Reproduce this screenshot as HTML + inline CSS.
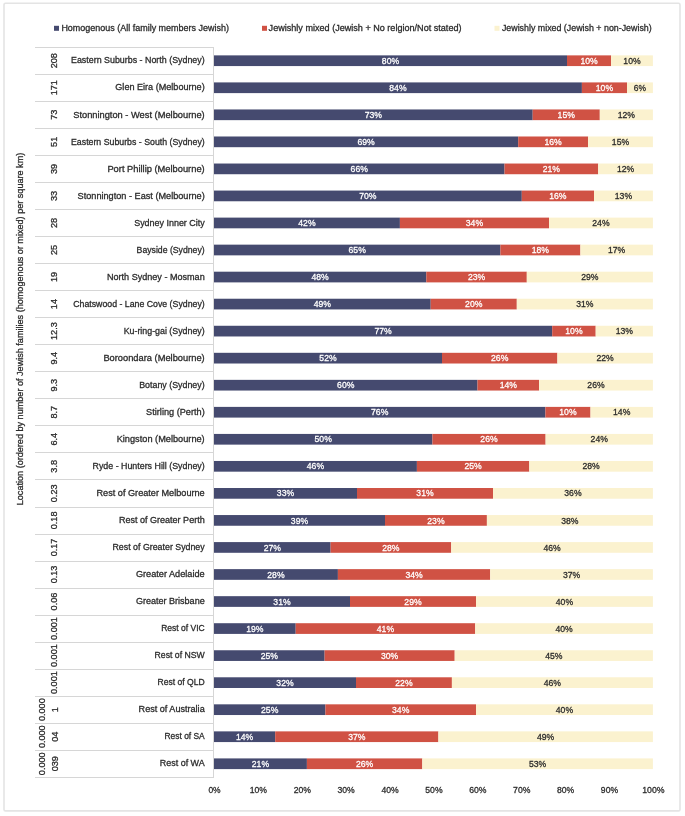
<!DOCTYPE html><html><head><meta charset="utf-8"><style>html,body{margin:0;padding:0;background:#fff;}svg{display:block;will-change:transform;}text{font-family:"Liberation Sans",sans-serif;font-size:9.4px;stroke-width:0.3px;}</style></head><body>
<svg width="685" height="816" viewBox="0 0 685 816">
<rect x="0" y="0" width="685" height="816" fill="#fff"/>
<rect x="4.0" y="3.3" width="676.0" height="807.6" rx="1.5" fill="none" stroke="#e4e4e4" stroke-width="1.6"/>
<rect x="54" y="25.8" width="5" height="5" fill="#454a6f"/>
<text x="61.40" y="30.90" text-anchor="start" fill="#2b2b2b" stroke="#2b2b2b" textLength="167.50" lengthAdjust="spacingAndGlyphs">Homogenous (All family members Jewish)</text>
<rect x="262" y="25.8" width="5" height="5" fill="#d05244"/>
<text x="268.60" y="30.90" text-anchor="start" fill="#2b2b2b" stroke="#2b2b2b" textLength="192.90" lengthAdjust="spacingAndGlyphs">Jewishly mixed (Jewish + No relgion/Not stated)</text>
<rect x="494.5" y="25.8" width="5" height="5" fill="#fbf2cf"/>
<text x="501.90" y="30.90" text-anchor="start" fill="#2b2b2b" stroke="#2b2b2b" textLength="149.80" lengthAdjust="spacingAndGlyphs">Jewishly mixed (Jewish + non-Jewish)</text>
<line x1="35" y1="47.50" x2="213" y2="47.50" stroke="#d6d6d6" stroke-width="1"/>
<line x1="35" y1="74.50" x2="213" y2="74.50" stroke="#d6d6d6" stroke-width="1"/>
<line x1="35" y1="101.50" x2="213" y2="101.50" stroke="#d6d6d6" stroke-width="1"/>
<line x1="35" y1="128.50" x2="213" y2="128.50" stroke="#d6d6d6" stroke-width="1"/>
<line x1="35" y1="155.50" x2="213" y2="155.50" stroke="#d6d6d6" stroke-width="1"/>
<line x1="35" y1="182.50" x2="213" y2="182.50" stroke="#d6d6d6" stroke-width="1"/>
<line x1="35" y1="209.50" x2="213" y2="209.50" stroke="#d6d6d6" stroke-width="1"/>
<line x1="35" y1="236.50" x2="213" y2="236.50" stroke="#d6d6d6" stroke-width="1"/>
<line x1="35" y1="263.50" x2="213" y2="263.50" stroke="#d6d6d6" stroke-width="1"/>
<line x1="35" y1="290.50" x2="213" y2="290.50" stroke="#d6d6d6" stroke-width="1"/>
<line x1="35" y1="317.50" x2="213" y2="317.50" stroke="#d6d6d6" stroke-width="1"/>
<line x1="35" y1="344.50" x2="213" y2="344.50" stroke="#d6d6d6" stroke-width="1"/>
<line x1="35" y1="371.50" x2="213" y2="371.50" stroke="#d6d6d6" stroke-width="1"/>
<line x1="35" y1="398.50" x2="213" y2="398.50" stroke="#d6d6d6" stroke-width="1"/>
<line x1="35" y1="425.50" x2="213" y2="425.50" stroke="#d6d6d6" stroke-width="1"/>
<line x1="35" y1="452.50" x2="213" y2="452.50" stroke="#d6d6d6" stroke-width="1"/>
<line x1="35" y1="479.50" x2="213" y2="479.50" stroke="#d6d6d6" stroke-width="1"/>
<line x1="35" y1="507.50" x2="213" y2="507.50" stroke="#d6d6d6" stroke-width="1"/>
<line x1="35" y1="534.50" x2="213" y2="534.50" stroke="#d6d6d6" stroke-width="1"/>
<line x1="35" y1="561.50" x2="213" y2="561.50" stroke="#d6d6d6" stroke-width="1"/>
<line x1="35" y1="588.50" x2="213" y2="588.50" stroke="#d6d6d6" stroke-width="1"/>
<line x1="35" y1="615.50" x2="213" y2="615.50" stroke="#d6d6d6" stroke-width="1"/>
<line x1="35" y1="642.50" x2="213" y2="642.50" stroke="#d6d6d6" stroke-width="1"/>
<line x1="35" y1="669.50" x2="213" y2="669.50" stroke="#d6d6d6" stroke-width="1"/>
<line x1="35" y1="696.50" x2="213" y2="696.50" stroke="#d6d6d6" stroke-width="1"/>
<line x1="35" y1="723.50" x2="213" y2="723.50" stroke="#d6d6d6" stroke-width="1"/>
<line x1="35" y1="750.50" x2="213" y2="750.50" stroke="#d6d6d6" stroke-width="1"/>
<line x1="35" y1="777.50" x2="213" y2="777.50" stroke="#d6d6d6" stroke-width="1"/>
<line x1="213.5" y1="47.00" x2="213.5" y2="778.00" stroke="#d6d6d6" stroke-width="1"/>
<g transform="translate(22.7,329) rotate(-90)"><text x="0.00" y="0.00" text-anchor="middle" fill="#2b2b2b" stroke="#2b2b2b" textLength="352.50" lengthAdjust="spacingAndGlyphs">Location (ordered by number of Jewish families (homogenous or mixed) per square km)</text></g>
<text x="71.00" y="63.42" text-anchor="start" fill="#2b2b2b" stroke="#2b2b2b" textLength="133.70" lengthAdjust="spacingAndGlyphs">Eastern Suburbs - North (Sydney)</text>
<g transform="translate(57.4,60.72) rotate(-90)"><text x="0.00" y="0.00" text-anchor="middle" fill="#2b2b2b" stroke="#2b2b2b" textLength="15.21" lengthAdjust="spacingAndGlyphs">208</text></g>
<rect x="214.00" y="55.37" width="353.00" height="10.7" fill="#454a6f"/>
<rect x="567.00" y="55.37" width="44.10" height="10.7" fill="#d05244"/>
<rect x="611.10" y="55.37" width="41.80" height="10.7" fill="#fbf2cf"/>
<text x="390.50" y="63.82" text-anchor="middle" fill="#fff" stroke="#fff" textLength="17.29" lengthAdjust="spacingAndGlyphs">80%</text>
<text x="589.05" y="63.82" text-anchor="middle" fill="#fff" stroke="#fff" textLength="17.29" lengthAdjust="spacingAndGlyphs">10%</text>
<text x="632.00" y="63.82" text-anchor="middle" fill="#2b2b2b" stroke="#2b2b2b" textLength="17.29" lengthAdjust="spacingAndGlyphs">10%</text>
<text x="115.30" y="90.46" text-anchor="start" fill="#2b2b2b" stroke="#2b2b2b" textLength="89.40" lengthAdjust="spacingAndGlyphs">Glen Eira (Melbourne)</text>
<g transform="translate(57.4,87.76) rotate(-90)"><text x="0.00" y="0.00" text-anchor="middle" fill="#2b2b2b" stroke="#2b2b2b" textLength="15.21" lengthAdjust="spacingAndGlyphs">171</text></g>
<rect x="214.00" y="82.41" width="367.90" height="10.7" fill="#454a6f"/>
<rect x="581.90" y="82.41" width="45.10" height="10.7" fill="#d05244"/>
<rect x="627.00" y="82.41" width="25.90" height="10.7" fill="#fbf2cf"/>
<text x="397.95" y="90.86" text-anchor="middle" fill="#fff" stroke="#fff" textLength="17.29" lengthAdjust="spacingAndGlyphs">84%</text>
<text x="604.45" y="90.86" text-anchor="middle" fill="#fff" stroke="#fff" textLength="17.29" lengthAdjust="spacingAndGlyphs">10%</text>
<text x="639.95" y="90.86" text-anchor="middle" fill="#2b2b2b" stroke="#2b2b2b" textLength="12.22" lengthAdjust="spacingAndGlyphs">6%</text>
<text x="73.20" y="117.50" text-anchor="start" fill="#2b2b2b" stroke="#2b2b2b" textLength="131.50" lengthAdjust="spacingAndGlyphs">Stonnington - West (Melbourne)</text>
<g transform="translate(57.4,114.80) rotate(-90)"><text x="0.00" y="0.00" text-anchor="middle" fill="#2b2b2b" stroke="#2b2b2b" textLength="10.14" lengthAdjust="spacingAndGlyphs">73</text></g>
<rect x="214.00" y="109.45" width="318.70" height="10.7" fill="#454a6f"/>
<rect x="532.70" y="109.45" width="67.10" height="10.7" fill="#d05244"/>
<rect x="599.80" y="109.45" width="53.10" height="10.7" fill="#fbf2cf"/>
<text x="373.35" y="117.90" text-anchor="middle" fill="#fff" stroke="#fff" textLength="17.29" lengthAdjust="spacingAndGlyphs">73%</text>
<text x="566.25" y="117.90" text-anchor="middle" fill="#fff" stroke="#fff" textLength="17.29" lengthAdjust="spacingAndGlyphs">15%</text>
<text x="626.35" y="117.90" text-anchor="middle" fill="#2b2b2b" stroke="#2b2b2b" textLength="17.29" lengthAdjust="spacingAndGlyphs">12%</text>
<text x="71.00" y="144.54" text-anchor="start" fill="#2b2b2b" stroke="#2b2b2b" textLength="133.70" lengthAdjust="spacingAndGlyphs">Eastern Suburbs - South (Sydney)</text>
<g transform="translate(57.4,141.84) rotate(-90)"><text x="0.00" y="0.00" text-anchor="middle" fill="#2b2b2b" stroke="#2b2b2b" textLength="10.14" lengthAdjust="spacingAndGlyphs">51</text></g>
<rect x="214.00" y="136.49" width="304.20" height="10.7" fill="#454a6f"/>
<rect x="518.20" y="136.49" width="69.90" height="10.7" fill="#d05244"/>
<rect x="588.10" y="136.49" width="64.80" height="10.7" fill="#fbf2cf"/>
<text x="366.10" y="144.94" text-anchor="middle" fill="#fff" stroke="#fff" textLength="17.29" lengthAdjust="spacingAndGlyphs">69%</text>
<text x="553.15" y="144.94" text-anchor="middle" fill="#fff" stroke="#fff" textLength="17.29" lengthAdjust="spacingAndGlyphs">16%</text>
<text x="620.50" y="144.94" text-anchor="middle" fill="#2b2b2b" stroke="#2b2b2b" textLength="17.29" lengthAdjust="spacingAndGlyphs">15%</text>
<text x="107.40" y="171.58" text-anchor="start" fill="#2b2b2b" stroke="#2b2b2b" textLength="97.30" lengthAdjust="spacingAndGlyphs">Port Phillip (Melbourne)</text>
<g transform="translate(57.4,168.88) rotate(-90)"><text x="0.00" y="0.00" text-anchor="middle" fill="#2b2b2b" stroke="#2b2b2b" textLength="10.14" lengthAdjust="spacingAndGlyphs">39</text></g>
<rect x="214.00" y="163.53" width="290.50" height="10.7" fill="#454a6f"/>
<rect x="504.50" y="163.53" width="93.70" height="10.7" fill="#d05244"/>
<rect x="598.20" y="163.53" width="54.70" height="10.7" fill="#fbf2cf"/>
<text x="359.25" y="171.98" text-anchor="middle" fill="#fff" stroke="#fff" textLength="17.29" lengthAdjust="spacingAndGlyphs">66%</text>
<text x="551.35" y="171.98" text-anchor="middle" fill="#fff" stroke="#fff" textLength="17.29" lengthAdjust="spacingAndGlyphs">21%</text>
<text x="625.55" y="171.98" text-anchor="middle" fill="#2b2b2b" stroke="#2b2b2b" textLength="17.29" lengthAdjust="spacingAndGlyphs">12%</text>
<text x="77.60" y="198.62" text-anchor="start" fill="#2b2b2b" stroke="#2b2b2b" textLength="127.10" lengthAdjust="spacingAndGlyphs">Stonnington - East (Melbourne)</text>
<g transform="translate(57.4,195.92) rotate(-90)"><text x="0.00" y="0.00" text-anchor="middle" fill="#2b2b2b" stroke="#2b2b2b" textLength="10.14" lengthAdjust="spacingAndGlyphs">33</text></g>
<rect x="214.00" y="190.57" width="307.80" height="10.7" fill="#454a6f"/>
<rect x="521.80" y="190.57" width="72.20" height="10.7" fill="#d05244"/>
<rect x="594.00" y="190.57" width="58.90" height="10.7" fill="#fbf2cf"/>
<text x="367.90" y="199.02" text-anchor="middle" fill="#fff" stroke="#fff" textLength="17.29" lengthAdjust="spacingAndGlyphs">70%</text>
<text x="557.90" y="199.02" text-anchor="middle" fill="#fff" stroke="#fff" textLength="17.29" lengthAdjust="spacingAndGlyphs">16%</text>
<text x="623.45" y="199.02" text-anchor="middle" fill="#2b2b2b" stroke="#2b2b2b" textLength="17.29" lengthAdjust="spacingAndGlyphs">13%</text>
<text x="134.20" y="225.66" text-anchor="start" fill="#2b2b2b" stroke="#2b2b2b" textLength="70.50" lengthAdjust="spacingAndGlyphs">Sydney Inner City</text>
<g transform="translate(57.4,222.96) rotate(-90)"><text x="0.00" y="0.00" text-anchor="middle" fill="#2b2b2b" stroke="#2b2b2b" textLength="10.14" lengthAdjust="spacingAndGlyphs">28</text></g>
<rect x="214.00" y="217.61" width="185.90" height="10.7" fill="#454a6f"/>
<rect x="399.90" y="217.61" width="149.10" height="10.7" fill="#d05244"/>
<rect x="549.00" y="217.61" width="103.90" height="10.7" fill="#fbf2cf"/>
<text x="306.95" y="226.06" text-anchor="middle" fill="#fff" stroke="#fff" textLength="17.29" lengthAdjust="spacingAndGlyphs">42%</text>
<text x="474.45" y="226.06" text-anchor="middle" fill="#fff" stroke="#fff" textLength="17.29" lengthAdjust="spacingAndGlyphs">34%</text>
<text x="600.95" y="226.06" text-anchor="middle" fill="#2b2b2b" stroke="#2b2b2b" textLength="17.29" lengthAdjust="spacingAndGlyphs">24%</text>
<text x="136.60" y="252.70" text-anchor="start" fill="#2b2b2b" stroke="#2b2b2b" textLength="68.10" lengthAdjust="spacingAndGlyphs">Bayside (Sydney)</text>
<g transform="translate(57.4,250.00) rotate(-90)"><text x="0.00" y="0.00" text-anchor="middle" fill="#2b2b2b" stroke="#2b2b2b" textLength="10.14" lengthAdjust="spacingAndGlyphs">25</text></g>
<rect x="214.00" y="244.65" width="286.40" height="10.7" fill="#454a6f"/>
<rect x="500.40" y="244.65" width="80.00" height="10.7" fill="#d05244"/>
<rect x="580.40" y="244.65" width="72.50" height="10.7" fill="#fbf2cf"/>
<text x="357.20" y="253.10" text-anchor="middle" fill="#fff" stroke="#fff" textLength="17.29" lengthAdjust="spacingAndGlyphs">65%</text>
<text x="540.40" y="253.10" text-anchor="middle" fill="#fff" stroke="#fff" textLength="17.29" lengthAdjust="spacingAndGlyphs">18%</text>
<text x="616.65" y="253.10" text-anchor="middle" fill="#2b2b2b" stroke="#2b2b2b" textLength="17.29" lengthAdjust="spacingAndGlyphs">17%</text>
<text x="107.00" y="279.74" text-anchor="start" fill="#2b2b2b" stroke="#2b2b2b" textLength="97.70" lengthAdjust="spacingAndGlyphs">North Sydney - Mosman</text>
<g transform="translate(57.4,277.04) rotate(-90)"><text x="0.00" y="0.00" text-anchor="middle" fill="#2b2b2b" stroke="#2b2b2b" textLength="10.14" lengthAdjust="spacingAndGlyphs">19</text></g>
<rect x="214.00" y="271.69" width="212.30" height="10.7" fill="#454a6f"/>
<rect x="426.30" y="271.69" width="100.50" height="10.7" fill="#d05244"/>
<rect x="526.80" y="271.69" width="126.10" height="10.7" fill="#fbf2cf"/>
<text x="320.15" y="280.14" text-anchor="middle" fill="#fff" stroke="#fff" textLength="17.29" lengthAdjust="spacingAndGlyphs">48%</text>
<text x="476.55" y="280.14" text-anchor="middle" fill="#fff" stroke="#fff" textLength="17.29" lengthAdjust="spacingAndGlyphs">23%</text>
<text x="589.85" y="280.14" text-anchor="middle" fill="#2b2b2b" stroke="#2b2b2b" textLength="17.29" lengthAdjust="spacingAndGlyphs">29%</text>
<text x="73.20" y="306.78" text-anchor="start" fill="#2b2b2b" stroke="#2b2b2b" textLength="131.50" lengthAdjust="spacingAndGlyphs">Chatswood - Lane Cove (Sydney)</text>
<g transform="translate(57.4,304.08) rotate(-90)"><text x="0.00" y="0.00" text-anchor="middle" fill="#2b2b2b" stroke="#2b2b2b" textLength="10.14" lengthAdjust="spacingAndGlyphs">14</text></g>
<rect x="214.00" y="298.73" width="216.70" height="10.7" fill="#454a6f"/>
<rect x="430.70" y="298.73" width="86.10" height="10.7" fill="#d05244"/>
<rect x="516.80" y="298.73" width="136.10" height="10.7" fill="#fbf2cf"/>
<text x="322.35" y="307.18" text-anchor="middle" fill="#fff" stroke="#fff" textLength="17.29" lengthAdjust="spacingAndGlyphs">49%</text>
<text x="473.75" y="307.18" text-anchor="middle" fill="#fff" stroke="#fff" textLength="17.29" lengthAdjust="spacingAndGlyphs">20%</text>
<text x="584.85" y="307.18" text-anchor="middle" fill="#2b2b2b" stroke="#2b2b2b" textLength="17.29" lengthAdjust="spacingAndGlyphs">31%</text>
<text x="123.70" y="333.82" text-anchor="start" fill="#2b2b2b" stroke="#2b2b2b" textLength="81.00" lengthAdjust="spacingAndGlyphs">Ku-ring-gai (Sydney)</text>
<g transform="translate(57.4,331.12) rotate(-90)"><text x="0.00" y="0.00" text-anchor="middle" fill="#2b2b2b" stroke="#2b2b2b" textLength="17.73" lengthAdjust="spacingAndGlyphs">12.3</text></g>
<rect x="214.00" y="325.77" width="338.20" height="10.7" fill="#454a6f"/>
<rect x="552.20" y="325.77" width="43.50" height="10.7" fill="#d05244"/>
<rect x="595.70" y="325.77" width="57.20" height="10.7" fill="#fbf2cf"/>
<text x="383.10" y="334.22" text-anchor="middle" fill="#fff" stroke="#fff" textLength="17.29" lengthAdjust="spacingAndGlyphs">77%</text>
<text x="573.95" y="334.22" text-anchor="middle" fill="#fff" stroke="#fff" textLength="17.29" lengthAdjust="spacingAndGlyphs">10%</text>
<text x="624.30" y="334.22" text-anchor="middle" fill="#2b2b2b" stroke="#2b2b2b" textLength="17.29" lengthAdjust="spacingAndGlyphs">13%</text>
<text x="103.40" y="360.86" text-anchor="start" fill="#2b2b2b" stroke="#2b2b2b" textLength="101.30" lengthAdjust="spacingAndGlyphs">Boroondara (Melbourne)</text>
<g transform="translate(57.4,358.16) rotate(-90)"><text x="0.00" y="0.00" text-anchor="middle" fill="#2b2b2b" stroke="#2b2b2b" textLength="12.66" lengthAdjust="spacingAndGlyphs">9.4</text></g>
<rect x="214.00" y="352.81" width="228.00" height="10.7" fill="#454a6f"/>
<rect x="442.00" y="352.81" width="115.40" height="10.7" fill="#d05244"/>
<rect x="557.40" y="352.81" width="95.50" height="10.7" fill="#fbf2cf"/>
<text x="328.00" y="361.26" text-anchor="middle" fill="#fff" stroke="#fff" textLength="17.29" lengthAdjust="spacingAndGlyphs">52%</text>
<text x="499.70" y="361.26" text-anchor="middle" fill="#fff" stroke="#fff" textLength="17.29" lengthAdjust="spacingAndGlyphs">26%</text>
<text x="605.15" y="361.26" text-anchor="middle" fill="#2b2b2b" stroke="#2b2b2b" textLength="17.29" lengthAdjust="spacingAndGlyphs">22%</text>
<text x="139.20" y="387.90" text-anchor="start" fill="#2b2b2b" stroke="#2b2b2b" textLength="65.50" lengthAdjust="spacingAndGlyphs">Botany (Sydney)</text>
<g transform="translate(57.4,385.20) rotate(-90)"><text x="0.00" y="0.00" text-anchor="middle" fill="#2b2b2b" stroke="#2b2b2b" textLength="12.66" lengthAdjust="spacingAndGlyphs">9.3</text></g>
<rect x="214.00" y="379.85" width="263.50" height="10.7" fill="#454a6f"/>
<rect x="477.50" y="379.85" width="61.60" height="10.7" fill="#d05244"/>
<rect x="539.10" y="379.85" width="113.80" height="10.7" fill="#fbf2cf"/>
<text x="345.75" y="388.30" text-anchor="middle" fill="#fff" stroke="#fff" textLength="17.29" lengthAdjust="spacingAndGlyphs">60%</text>
<text x="508.30" y="388.30" text-anchor="middle" fill="#fff" stroke="#fff" textLength="17.29" lengthAdjust="spacingAndGlyphs">14%</text>
<text x="596.00" y="388.30" text-anchor="middle" fill="#2b2b2b" stroke="#2b2b2b" textLength="17.29" lengthAdjust="spacingAndGlyphs">26%</text>
<text x="146.10" y="414.94" text-anchor="start" fill="#2b2b2b" stroke="#2b2b2b" textLength="58.60" lengthAdjust="spacingAndGlyphs">Stirling (Perth)</text>
<g transform="translate(57.4,412.24) rotate(-90)"><text x="0.00" y="0.00" text-anchor="middle" fill="#2b2b2b" stroke="#2b2b2b" textLength="12.66" lengthAdjust="spacingAndGlyphs">8.7</text></g>
<rect x="214.00" y="406.89" width="331.40" height="10.7" fill="#454a6f"/>
<rect x="545.40" y="406.89" width="45.10" height="10.7" fill="#d05244"/>
<rect x="590.50" y="406.89" width="62.40" height="10.7" fill="#fbf2cf"/>
<text x="379.70" y="415.34" text-anchor="middle" fill="#fff" stroke="#fff" textLength="17.29" lengthAdjust="spacingAndGlyphs">76%</text>
<text x="567.95" y="415.34" text-anchor="middle" fill="#fff" stroke="#fff" textLength="17.29" lengthAdjust="spacingAndGlyphs">10%</text>
<text x="621.70" y="415.34" text-anchor="middle" fill="#2b2b2b" stroke="#2b2b2b" textLength="17.29" lengthAdjust="spacingAndGlyphs">14%</text>
<text x="116.70" y="441.98" text-anchor="start" fill="#2b2b2b" stroke="#2b2b2b" textLength="88.00" lengthAdjust="spacingAndGlyphs">Kingston (Melbourne)</text>
<g transform="translate(57.4,439.28) rotate(-90)"><text x="0.00" y="0.00" text-anchor="middle" fill="#2b2b2b" stroke="#2b2b2b" textLength="12.66" lengthAdjust="spacingAndGlyphs">6.4</text></g>
<rect x="214.00" y="433.93" width="218.40" height="10.7" fill="#454a6f"/>
<rect x="432.40" y="433.93" width="113.20" height="10.7" fill="#d05244"/>
<rect x="545.60" y="433.93" width="107.30" height="10.7" fill="#fbf2cf"/>
<text x="323.20" y="442.38" text-anchor="middle" fill="#fff" stroke="#fff" textLength="17.29" lengthAdjust="spacingAndGlyphs">50%</text>
<text x="489.00" y="442.38" text-anchor="middle" fill="#fff" stroke="#fff" textLength="17.29" lengthAdjust="spacingAndGlyphs">26%</text>
<text x="599.25" y="442.38" text-anchor="middle" fill="#2b2b2b" stroke="#2b2b2b" textLength="17.29" lengthAdjust="spacingAndGlyphs">24%</text>
<text x="92.50" y="469.02" text-anchor="start" fill="#2b2b2b" stroke="#2b2b2b" textLength="112.20" lengthAdjust="spacingAndGlyphs">Ryde - Hunters Hill (Sydney)</text>
<g transform="translate(57.4,466.32) rotate(-90)"><text x="0.00" y="0.00" text-anchor="middle" fill="#2b2b2b" stroke="#2b2b2b" textLength="12.66" lengthAdjust="spacingAndGlyphs">3.8</text></g>
<rect x="214.00" y="460.97" width="202.90" height="10.7" fill="#454a6f"/>
<rect x="416.90" y="460.97" width="112.40" height="10.7" fill="#d05244"/>
<rect x="529.30" y="460.97" width="123.60" height="10.7" fill="#fbf2cf"/>
<text x="315.45" y="469.42" text-anchor="middle" fill="#fff" stroke="#fff" textLength="17.29" lengthAdjust="spacingAndGlyphs">46%</text>
<text x="473.10" y="469.42" text-anchor="middle" fill="#fff" stroke="#fff" textLength="17.29" lengthAdjust="spacingAndGlyphs">25%</text>
<text x="591.10" y="469.42" text-anchor="middle" fill="#2b2b2b" stroke="#2b2b2b" textLength="17.29" lengthAdjust="spacingAndGlyphs">28%</text>
<text x="96.50" y="496.06" text-anchor="start" fill="#2b2b2b" stroke="#2b2b2b" textLength="108.20" lengthAdjust="spacingAndGlyphs">Rest of Greater Melbourne</text>
<g transform="translate(57.4,493.36) rotate(-90)"><text x="0.00" y="0.00" text-anchor="middle" fill="#2b2b2b" stroke="#2b2b2b" textLength="17.73" lengthAdjust="spacingAndGlyphs">0.23</text></g>
<rect x="214.00" y="488.01" width="143.00" height="10.7" fill="#454a6f"/>
<rect x="357.00" y="488.01" width="136.00" height="10.7" fill="#d05244"/>
<rect x="493.00" y="488.01" width="159.90" height="10.7" fill="#fbf2cf"/>
<text x="285.50" y="496.46" text-anchor="middle" fill="#fff" stroke="#fff" textLength="17.29" lengthAdjust="spacingAndGlyphs">33%</text>
<text x="425.00" y="496.46" text-anchor="middle" fill="#fff" stroke="#fff" textLength="17.29" lengthAdjust="spacingAndGlyphs">31%</text>
<text x="572.95" y="496.46" text-anchor="middle" fill="#2b2b2b" stroke="#2b2b2b" textLength="17.29" lengthAdjust="spacingAndGlyphs">36%</text>
<text x="118.90" y="523.10" text-anchor="start" fill="#2b2b2b" stroke="#2b2b2b" textLength="85.80" lengthAdjust="spacingAndGlyphs">Rest of Greater Perth</text>
<g transform="translate(57.4,520.40) rotate(-90)"><text x="0.00" y="0.00" text-anchor="middle" fill="#2b2b2b" stroke="#2b2b2b" textLength="17.73" lengthAdjust="spacingAndGlyphs">0.18</text></g>
<rect x="214.00" y="515.05" width="171.00" height="10.7" fill="#454a6f"/>
<rect x="385.00" y="515.05" width="101.90" height="10.7" fill="#d05244"/>
<rect x="486.90" y="515.05" width="166.00" height="10.7" fill="#fbf2cf"/>
<text x="299.50" y="523.50" text-anchor="middle" fill="#fff" stroke="#fff" textLength="17.29" lengthAdjust="spacingAndGlyphs">39%</text>
<text x="435.95" y="523.50" text-anchor="middle" fill="#fff" stroke="#fff" textLength="17.29" lengthAdjust="spacingAndGlyphs">23%</text>
<text x="569.90" y="523.50" text-anchor="middle" fill="#2b2b2b" stroke="#2b2b2b" textLength="17.29" lengthAdjust="spacingAndGlyphs">38%</text>
<text x="112.50" y="550.14" text-anchor="start" fill="#2b2b2b" stroke="#2b2b2b" textLength="92.20" lengthAdjust="spacingAndGlyphs">Rest of Greater Sydney</text>
<g transform="translate(57.4,547.44) rotate(-90)"><text x="0.00" y="0.00" text-anchor="middle" fill="#2b2b2b" stroke="#2b2b2b" textLength="17.73" lengthAdjust="spacingAndGlyphs">0.17</text></g>
<rect x="214.00" y="542.09" width="116.60" height="10.7" fill="#454a6f"/>
<rect x="330.60" y="542.09" width="120.60" height="10.7" fill="#d05244"/>
<rect x="451.20" y="542.09" width="201.70" height="10.7" fill="#fbf2cf"/>
<text x="272.30" y="550.54" text-anchor="middle" fill="#fff" stroke="#fff" textLength="17.29" lengthAdjust="spacingAndGlyphs">27%</text>
<text x="390.90" y="550.54" text-anchor="middle" fill="#fff" stroke="#fff" textLength="17.29" lengthAdjust="spacingAndGlyphs">28%</text>
<text x="552.05" y="550.54" text-anchor="middle" fill="#2b2b2b" stroke="#2b2b2b" textLength="17.29" lengthAdjust="spacingAndGlyphs">46%</text>
<text x="135.90" y="577.18" text-anchor="start" fill="#2b2b2b" stroke="#2b2b2b" textLength="68.80" lengthAdjust="spacingAndGlyphs">Greater Adelaide</text>
<g transform="translate(57.4,574.48) rotate(-90)"><text x="0.00" y="0.00" text-anchor="middle" fill="#2b2b2b" stroke="#2b2b2b" textLength="17.73" lengthAdjust="spacingAndGlyphs">0.13</text></g>
<rect x="214.00" y="569.13" width="123.90" height="10.7" fill="#454a6f"/>
<rect x="337.90" y="569.13" width="152.30" height="10.7" fill="#d05244"/>
<rect x="490.20" y="569.13" width="162.70" height="10.7" fill="#fbf2cf"/>
<text x="275.95" y="577.58" text-anchor="middle" fill="#fff" stroke="#fff" textLength="17.29" lengthAdjust="spacingAndGlyphs">28%</text>
<text x="414.05" y="577.58" text-anchor="middle" fill="#fff" stroke="#fff" textLength="17.29" lengthAdjust="spacingAndGlyphs">34%</text>
<text x="571.55" y="577.58" text-anchor="middle" fill="#2b2b2b" stroke="#2b2b2b" textLength="17.29" lengthAdjust="spacingAndGlyphs">37%</text>
<text x="135.90" y="604.22" text-anchor="start" fill="#2b2b2b" stroke="#2b2b2b" textLength="68.80" lengthAdjust="spacingAndGlyphs">Greater Brisbane</text>
<g transform="translate(57.4,601.52) rotate(-90)"><text x="0.00" y="0.00" text-anchor="middle" fill="#2b2b2b" stroke="#2b2b2b" textLength="17.73" lengthAdjust="spacingAndGlyphs">0.06</text></g>
<rect x="214.00" y="596.17" width="136.00" height="10.7" fill="#454a6f"/>
<rect x="350.00" y="596.17" width="126.00" height="10.7" fill="#d05244"/>
<rect x="476.00" y="596.17" width="176.90" height="10.7" fill="#fbf2cf"/>
<text x="282.00" y="604.62" text-anchor="middle" fill="#fff" stroke="#fff" textLength="17.29" lengthAdjust="spacingAndGlyphs">31%</text>
<text x="413.00" y="604.62" text-anchor="middle" fill="#fff" stroke="#fff" textLength="17.29" lengthAdjust="spacingAndGlyphs">29%</text>
<text x="564.45" y="604.62" text-anchor="middle" fill="#2b2b2b" stroke="#2b2b2b" textLength="17.29" lengthAdjust="spacingAndGlyphs">40%</text>
<text x="161.20" y="631.26" text-anchor="start" fill="#2b2b2b" stroke="#2b2b2b" textLength="43.50" lengthAdjust="spacingAndGlyphs">Rest of VIC</text>
<g transform="translate(57.4,628.56) rotate(-90)"><text x="0.00" y="0.00" text-anchor="middle" fill="#2b2b2b" stroke="#2b2b2b" textLength="22.80" lengthAdjust="spacingAndGlyphs">0.001</text></g>
<rect x="214.00" y="623.21" width="81.70" height="10.7" fill="#454a6f"/>
<rect x="295.70" y="623.21" width="179.50" height="10.7" fill="#d05244"/>
<rect x="475.20" y="623.21" width="177.70" height="10.7" fill="#fbf2cf"/>
<text x="254.85" y="631.66" text-anchor="middle" fill="#fff" stroke="#fff" textLength="17.29" lengthAdjust="spacingAndGlyphs">19%</text>
<text x="385.45" y="631.66" text-anchor="middle" fill="#fff" stroke="#fff" textLength="17.29" lengthAdjust="spacingAndGlyphs">41%</text>
<text x="564.05" y="631.66" text-anchor="middle" fill="#2b2b2b" stroke="#2b2b2b" textLength="17.29" lengthAdjust="spacingAndGlyphs">40%</text>
<text x="154.60" y="658.30" text-anchor="start" fill="#2b2b2b" stroke="#2b2b2b" textLength="50.10" lengthAdjust="spacingAndGlyphs">Rest of NSW</text>
<g transform="translate(57.4,655.60) rotate(-90)"><text x="0.00" y="0.00" text-anchor="middle" fill="#2b2b2b" stroke="#2b2b2b" textLength="22.80" lengthAdjust="spacingAndGlyphs">0.001</text></g>
<rect x="214.00" y="650.25" width="110.60" height="10.7" fill="#454a6f"/>
<rect x="324.60" y="650.25" width="130.10" height="10.7" fill="#d05244"/>
<rect x="454.70" y="650.25" width="198.20" height="10.7" fill="#fbf2cf"/>
<text x="269.30" y="658.70" text-anchor="middle" fill="#fff" stroke="#fff" textLength="17.29" lengthAdjust="spacingAndGlyphs">25%</text>
<text x="389.65" y="658.70" text-anchor="middle" fill="#fff" stroke="#fff" textLength="17.29" lengthAdjust="spacingAndGlyphs">30%</text>
<text x="553.80" y="658.70" text-anchor="middle" fill="#2b2b2b" stroke="#2b2b2b" textLength="17.29" lengthAdjust="spacingAndGlyphs">45%</text>
<text x="157.60" y="685.34" text-anchor="start" fill="#2b2b2b" stroke="#2b2b2b" textLength="47.10" lengthAdjust="spacingAndGlyphs">Rest of QLD</text>
<g transform="translate(57.4,682.64) rotate(-90)"><text x="0.00" y="0.00" text-anchor="middle" fill="#2b2b2b" stroke="#2b2b2b" textLength="22.80" lengthAdjust="spacingAndGlyphs">0.001</text></g>
<rect x="214.00" y="677.29" width="142.00" height="10.7" fill="#454a6f"/>
<rect x="356.00" y="677.29" width="95.90" height="10.7" fill="#d05244"/>
<rect x="451.90" y="677.29" width="201.00" height="10.7" fill="#fbf2cf"/>
<text x="285.00" y="685.74" text-anchor="middle" fill="#fff" stroke="#fff" textLength="17.29" lengthAdjust="spacingAndGlyphs">32%</text>
<text x="403.95" y="685.74" text-anchor="middle" fill="#fff" stroke="#fff" textLength="17.29" lengthAdjust="spacingAndGlyphs">22%</text>
<text x="552.40" y="685.74" text-anchor="middle" fill="#2b2b2b" stroke="#2b2b2b" textLength="17.29" lengthAdjust="spacingAndGlyphs">46%</text>
<text x="138.60" y="712.38" text-anchor="start" fill="#2b2b2b" stroke="#2b2b2b" textLength="66.10" lengthAdjust="spacingAndGlyphs">Rest of Australia</text>
<g transform="translate(44.8,709.68) rotate(-90)"><text x="0.00" y="0.00" text-anchor="middle" fill="#2b2b2b" stroke="#2b2b2b" textLength="22.80" lengthAdjust="spacingAndGlyphs">0.000</text></g>
<g transform="translate(58.0,709.68) rotate(-90)"><text x="0.00" y="0.00" text-anchor="middle" fill="#2b2b2b" stroke="#2b2b2b" textLength="5.07" lengthAdjust="spacingAndGlyphs">1</text></g>
<rect x="214.00" y="704.33" width="111.40" height="10.7" fill="#454a6f"/>
<rect x="325.40" y="704.33" width="150.60" height="10.7" fill="#d05244"/>
<rect x="476.00" y="704.33" width="176.90" height="10.7" fill="#fbf2cf"/>
<text x="269.70" y="712.78" text-anchor="middle" fill="#fff" stroke="#fff" textLength="17.29" lengthAdjust="spacingAndGlyphs">25%</text>
<text x="400.70" y="712.78" text-anchor="middle" fill="#fff" stroke="#fff" textLength="17.29" lengthAdjust="spacingAndGlyphs">34%</text>
<text x="564.45" y="712.78" text-anchor="middle" fill="#2b2b2b" stroke="#2b2b2b" textLength="17.29" lengthAdjust="spacingAndGlyphs">40%</text>
<text x="164.50" y="739.42" text-anchor="start" fill="#2b2b2b" stroke="#2b2b2b" textLength="40.20" lengthAdjust="spacingAndGlyphs">Rest of SA</text>
<g transform="translate(44.8,736.72) rotate(-90)"><text x="0.00" y="0.00" text-anchor="middle" fill="#2b2b2b" stroke="#2b2b2b" textLength="22.80" lengthAdjust="spacingAndGlyphs">0.000</text></g>
<g transform="translate(58.0,736.72) rotate(-90)"><text x="0.00" y="0.00" text-anchor="middle" fill="#2b2b2b" stroke="#2b2b2b" textLength="10.14" lengthAdjust="spacingAndGlyphs">04</text></g>
<rect x="214.00" y="731.37" width="61.20" height="10.7" fill="#454a6f"/>
<rect x="275.20" y="731.37" width="163.20" height="10.7" fill="#d05244"/>
<rect x="438.40" y="731.37" width="214.50" height="10.7" fill="#fbf2cf"/>
<text x="244.60" y="739.82" text-anchor="middle" fill="#fff" stroke="#fff" textLength="17.29" lengthAdjust="spacingAndGlyphs">14%</text>
<text x="356.80" y="739.82" text-anchor="middle" fill="#fff" stroke="#fff" textLength="17.29" lengthAdjust="spacingAndGlyphs">37%</text>
<text x="545.65" y="739.82" text-anchor="middle" fill="#2b2b2b" stroke="#2b2b2b" textLength="17.29" lengthAdjust="spacingAndGlyphs">49%</text>
<text x="159.80" y="766.46" text-anchor="start" fill="#2b2b2b" stroke="#2b2b2b" textLength="44.90" lengthAdjust="spacingAndGlyphs">Rest of WA</text>
<g transform="translate(44.8,763.76) rotate(-90)"><text x="0.00" y="0.00" text-anchor="middle" fill="#2b2b2b" stroke="#2b2b2b" textLength="22.80" lengthAdjust="spacingAndGlyphs">0.000</text></g>
<g transform="translate(58.0,763.76) rotate(-90)"><text x="0.00" y="0.00" text-anchor="middle" fill="#2b2b2b" stroke="#2b2b2b" textLength="15.21" lengthAdjust="spacingAndGlyphs">039</text></g>
<rect x="214.00" y="758.41" width="92.90" height="10.7" fill="#454a6f"/>
<rect x="306.90" y="758.41" width="115.40" height="10.7" fill="#d05244"/>
<rect x="422.30" y="758.41" width="230.60" height="10.7" fill="#fbf2cf"/>
<text x="260.45" y="766.86" text-anchor="middle" fill="#fff" stroke="#fff" textLength="17.29" lengthAdjust="spacingAndGlyphs">21%</text>
<text x="364.60" y="766.86" text-anchor="middle" fill="#fff" stroke="#fff" textLength="17.29" lengthAdjust="spacingAndGlyphs">26%</text>
<text x="537.60" y="766.86" text-anchor="middle" fill="#2b2b2b" stroke="#2b2b2b" textLength="17.29" lengthAdjust="spacingAndGlyphs">53%</text>
<text x="214.50" y="792.60" text-anchor="middle" fill="#2b2b2b" stroke="#2b2b2b" textLength="12.22" lengthAdjust="spacingAndGlyphs">0%</text>
<text x="258.39" y="792.60" text-anchor="middle" fill="#2b2b2b" stroke="#2b2b2b" textLength="17.29" lengthAdjust="spacingAndGlyphs">10%</text>
<text x="302.28" y="792.60" text-anchor="middle" fill="#2b2b2b" stroke="#2b2b2b" textLength="17.29" lengthAdjust="spacingAndGlyphs">20%</text>
<text x="346.17" y="792.60" text-anchor="middle" fill="#2b2b2b" stroke="#2b2b2b" textLength="17.29" lengthAdjust="spacingAndGlyphs">30%</text>
<text x="390.06" y="792.60" text-anchor="middle" fill="#2b2b2b" stroke="#2b2b2b" textLength="17.29" lengthAdjust="spacingAndGlyphs">40%</text>
<text x="433.95" y="792.60" text-anchor="middle" fill="#2b2b2b" stroke="#2b2b2b" textLength="17.29" lengthAdjust="spacingAndGlyphs">50%</text>
<text x="477.84" y="792.60" text-anchor="middle" fill="#2b2b2b" stroke="#2b2b2b" textLength="17.29" lengthAdjust="spacingAndGlyphs">60%</text>
<text x="521.73" y="792.60" text-anchor="middle" fill="#2b2b2b" stroke="#2b2b2b" textLength="17.29" lengthAdjust="spacingAndGlyphs">70%</text>
<text x="565.62" y="792.60" text-anchor="middle" fill="#2b2b2b" stroke="#2b2b2b" textLength="17.29" lengthAdjust="spacingAndGlyphs">80%</text>
<text x="609.51" y="792.60" text-anchor="middle" fill="#2b2b2b" stroke="#2b2b2b" textLength="17.29" lengthAdjust="spacingAndGlyphs">90%</text>
<text x="653.40" y="792.60" text-anchor="middle" fill="#2b2b2b" stroke="#2b2b2b" textLength="22.36" lengthAdjust="spacingAndGlyphs">100%</text>
</svg></body></html>
